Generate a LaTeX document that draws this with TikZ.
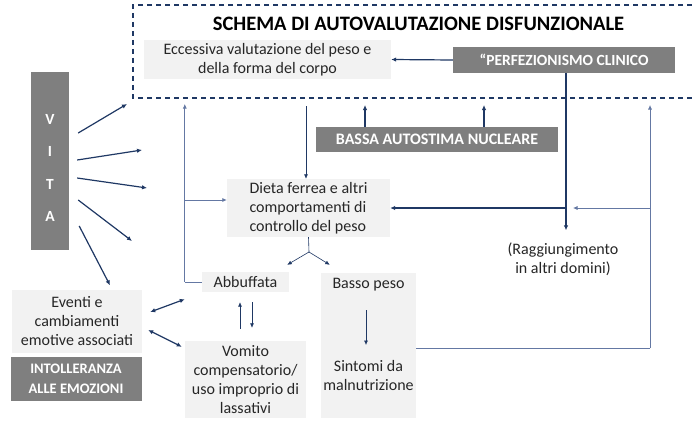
\documentclass[tikz,border=0pt]{standalone}
\usepackage{fontspec}
\setmainfont{Carlito}
\usetikzlibrary{arrows.meta}
\definecolor{navy}{HTML}{1F3864}
\definecolor{thinb}{HTML}{6478A3}
\definecolor{lgray}{HTML}{F2F2F2}
\definecolor{dgray}{HTML}{7F7F7F}
\definecolor{txt}{HTML}{262626}
\begin{document}
\begin{tikzpicture}[x=1pt,y=-1pt,
 lbox/.style={fill=lgray, draw=none, text=txt, font=\fontsize{16}{19}\selectfont, align=center, inner sep=0pt},
 dbox/.style={fill=dgray, text=white, font=\fontsize{15.5}{19}\selectfont\bfseries, align=center, inner sep=0pt},
 plaintxt/.style={text=txt, font=\fontsize{16}{19}\selectfont, align=center, inner sep=0pt},
 tarr/.style={-{Latex[length=5pt,width=4.5pt]}, navy, line width=1.2pt},
 darr/.style={{Latex[length=5pt,width=4.5pt]}-{Latex[length=5pt,width=4.5pt]}, navy, line width=1.2pt},
 narr/.style={-{Latex[length=4.5pt,width=4pt]}, navy, line width=0.6pt},
 nline/.style={navy, line width=0.6pt},
 larr/.style={-{Latex[length=4.5pt,width=4pt]}, thinb, line width=0.7pt},
 lline/.style={thinb, line width=0.7pt},
]
\useasboundingbox (0,0) rectangle (692,420);
\fill[white] (0,0) rectangle (692,420);

% dashed frame
\draw[navy, line width=1.2pt, dash pattern=on 5pt off 4pt] (692,5) -- (133,5) -- (133,98) -- (692,98);
\coordinate (dash) at (0,98);

% nodes
\node[font=\fontsize{20.5}{22}\selectfont\bfseries, text=black, inner sep=0pt] (title) at (418.5,24) {SCHEMA DI AUTOVALUTAZIONE DISFUNZIONALE};
\node[lbox, minimum width=247pt, minimum height=39pt] (ecc) at (267.5,59.5) {Eccessiva valutazione del peso e\\della forma del corpo};
\node[dbox, minimum width=222pt, minimum height=26pt] (perf) at (564,60) {“PERFEZIONISMO CLINICO};
\node[dbox, font=\fontsize{16}{19}\selectfont\bfseries, minimum width=242pt, minimum height=25pt] (bassa) at (437,139.5) {BASSA AUTOSTIMA NUCLEARE};
\node[lbox, align=left, minimum width=163pt, minimum height=58pt] (dieta) at (308.5,208) {Dieta ferrea e altri\\comportamenti di\\controllo del peso};
\node[plaintxt] (ragg) at (563,259) {(Raggiungimento\\in altri domini)};
\node[lbox, minimum width=87pt, minimum height=20pt] (abb) at (245.5,282) {Abbuffata};
\node[lbox, minimum width=95pt, minimum height=145pt] (bassobg) at (368.5,345.5) {};
\node[plaintxt] (basso) at (368.5,285) {Basso peso};
\node[plaintxt] (sint) at (368.5,375) {Sintomi da\\malnutrizione};
\node[lbox, minimum width=121pt, minimum height=77pt] (vom) at (245.5,379.5) {Vomito\\compensatorio/\\uso improprio di\\lassativi};
\node[lbox, minimum width=130pt, minimum height=63pt] (ev) at (77,321) {Eventi e\\cambiamenti\\emotive associati};
\node[dbox, font=\fontsize{14.5}{20}\selectfont\bfseries, minimum width=131pt, minimum height=44pt] (intol) at (76,379) {INTOLLERANZA\\ALLE EMOZIONI};
\node[dbox, minimum width=38pt, minimum height=178pt, font=\fontsize{15.5}{32.3}\selectfont\bfseries] (vita) at (50,161) {\rule{0pt}{24pt}V\\I\\T\\A};

% free arrow ends of VITA
\coordinate (e1) at (127,104);
\coordinate (e2) at (142,150);
\coordinate (e3) at (147,188);
\coordinate (e4) at (132,241);

% connectors: top part
\draw[tarr] (perf.west) -- (ecc.east);
\draw[tarr, shorten >=12pt] ([xshift=2pt]perf.south) -- ([xshift=2pt]perf.south |- ragg.north);
\draw[tarr] ([xshift=2pt]perf.south |- dieta.east) -- (dieta.east);
\draw[tarr, shorten >=7pt] ([xshift=-72pt]bassa.north) -- ([xshift=-72pt]bassa.north |- dash);
\draw[tarr, shorten >=7pt] ([xshift=47pt]bassa.north) -- ([xshift=47pt]bassa.north |- dash);
\draw[narr, shorten <=8pt] ([xshift=-2.5pt]dieta.north |- dash) -- ([xshift=-2.5pt]dieta.north);

% right loop
\coordinate (rc) at (650,348);
\draw[lline] ([yshift=-2.5pt]bassobg.east) -- (rc);
\draw[larr, shorten >=7pt] (rc) -- (rc |- dash);
\draw[larr] (rc |- dieta.east) -- ([xshift=9pt]perf.south |- dieta.east);

% left loop
\coordinate (dw) at ([yshift=8pt]dieta.west);
\draw[lline] (abb.west) -- ++(-17,0) coordinate (lc);
\draw[larr, shorten >=6pt] (lc) -- (lc |- dash);
\draw[larr] (lc |- dw) -- (dw);

% fork
\coordinate (fork) at (309,252);
\draw[nline] (dieta.south) -- (fork);
\draw[narr] (fork) -- ([xshift=-2pt,yshift=7pt]abb.north east);
\draw[narr] (fork) -- ([xshift=9pt,yshift=8pt]bassobg.north west);

% abbuffata <-> vomito
\draw[narr, shorten <=12pt, shorten >=10pt] ([xshift=-5.5pt]vom.north) -- ([xshift=-5.5pt]vom.north |- abb.south);
\draw[narr, shorten <=10pt, shorten >=13pt] ([xshift=6.5pt]vom.north |- abb.south) -- ([xshift=6.5pt]vom.north);

% basso -> sintomi
\draw[narr, shorten <=25pt, shorten >=30pt] ([xshift=-2.5pt]basso.center) -- ([xshift=-2.5pt]sint.center);

% eventi arrows
\draw[darr] ([xshift=8pt,yshift=9pt]ev.east) -- ([xshift=-17pt,yshift=-7pt]abb.south west);
\draw[darr] ([xshift=6pt,yshift=-9pt]ev.east) -- ([xshift=-3pt,yshift=-6pt]vom.north west);

% VITA arrows
\draw[tarr] ([xshift=9pt,yshift=28pt]vita.east) -- (e1);
\draw[tarr] ([xshift=8pt,yshift=1pt]vita.east) -- (e2);
\draw[tarr] ([xshift=8pt,yshift=-17pt]vita.east) -- (e3);
\draw[tarr] ([xshift=9pt,yshift=-39pt]vita.east) -- (e4);
\draw[tarr] ([xshift=10pt,yshift=-65pt]vita.east) -- ([xshift=33pt,yshift=4pt]ev.north);
\end{tikzpicture}
\end{document}
